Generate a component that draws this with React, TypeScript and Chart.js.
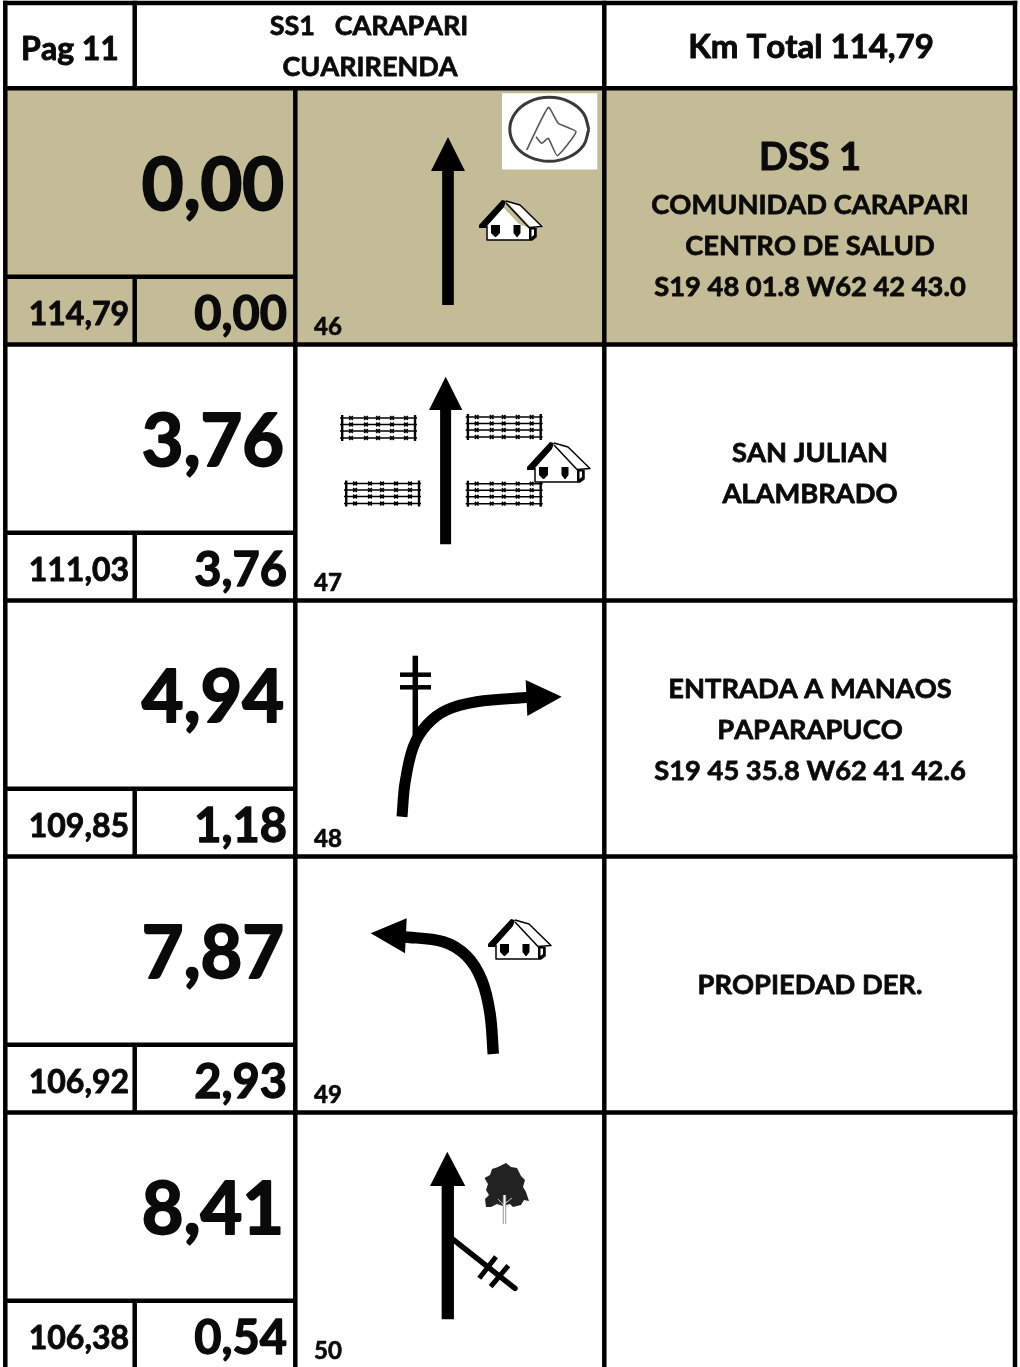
import React, { useEffect, useRef } from "react";
import { Chart, registerables } from "chart.js";

Chart.register(...registerables);

const SHEET_W = 1020;
const SHEET_H = 1367;
const FONT = "Lato";
const INK = "#000000";
const TAN = "#C4BC96";

// ---- table text ----
const pageLabel = "Pag 11";
const titleLines = ["SS1   CARAPARI", "CUARIRENDA"];
const totalLabel = "Km Total 114,79";
const kmCumulative = ["0,00", "3,76", "4,94", "7,87", "8,41"];
const kmRemaining = ["114,79", "111,03", "109,85", "106,92", "106,38"];
const kmPartial = ["0,00", "3,76", "1,18", "2,93", "0,54"];
const boxNumbers = ["46", "47", "48", "49", "50"];
const notesRow2 = ["SAN JULIAN", "ALAMBRADO"];
const notesRow3 = ["ENTRADA A MANAOS", "PAPARAPUCO", "S19 45 35.8 W62 41 42.6"];
const notesRow4 = ["PROPIEDAD DER."];
const headingRow1 = "DSS 1";
const notesRow1 = ["COMUNIDAD CARAPARI", "CENTRO DE SALUD", "S19 48 01.8 W62 42 43.0"];

// ---- table rules ----
const columnEdges = [5.3, 134.7, 295.3, 604.3, 1015];
const rowEdges = [3, 88.3, 344.6, 600.6, 856.6, 1112.6];
const subRowEdges = [276.7, 532.7, 788.7, 1044.7, 1300.7];

type P = [number, number];

// ---- straight arrows ----
const arrow46Shaft: P[] = [[448, 168], [448, 305]];
const arrow46Head: P[] = [[448, 137], [465, 171], [431, 171]];
const arrow47Shaft: P[] = [[445.6, 406], [445.6, 544.3]];
const arrow47Head: P[] = [[445.7, 376.7], [462.3, 410], [429, 410]];
const arrow50Shaft: P[] = [[447.8, 1182], [447.8, 1319.3]];
const arrow50Head: P[] = [[447.3, 1151.7], [465.3, 1186], [430, 1186]];

// ---- curved arrows ----
const arrow48Curve: P[] = [[402, 816.7], [405, 783], [413.3, 746.7], [426.7, 725], [446.7, 710], [476.7, 701.7], [530, 697.3]];
const arrow48Head: P[] = [[525.7, 680], [561.7, 696.7], [527.3, 716]];
const arrow49Curve: P[] = [[493.3, 1054], [490, 1013.3], [481.7, 980], [466.7, 956], [443.3, 941.7], [402, 936.7]];
const arrow49Head: P[] = [[406.7, 918.3], [370.7, 933.3], [405, 953.3]];

// ---- pole, track ----
const polePost: P[] = [[415.3, 655.7], [415.3, 738]];
const poleBarA: P[] = [[400, 674.7], [431, 674.7]];
const poleBarB: P[] = [[400, 687.3], [431, 687.3]];
const trackBranch: P[] = [[451.7, 1238.3], [515, 1288.3]];
const trackTickA: P[] = [[496, 1256.7], [479.3, 1278.3]];
const trackTickB: P[] = [[508.3, 1265.7], [490.7, 1286.7]];

// ---- tree ----
const treeCrown: P[] = [[506, 1163], [511, 1167], [517, 1168], [521, 1176], [525, 1180], [523, 1187], [526, 1192], [529, 1201], [524, 1200], [521, 1205], [513, 1207], [510, 1204], [503, 1206], [497, 1204], [491, 1207], [486, 1207], [485, 1199], [489, 1195], [486, 1190], [488, 1184], [484.5, 1178], [490, 1175], [492, 1169], [498, 1167]];
const treeTrunk: P[] = [[504.5, 1224], [504.5, 1195]];
const treeBranchA: P[] = [[504.5, 1206], [498, 1199]];
const treeBranchB: P[] = [[504.5, 1204], [512, 1198]];

// ---- logo ----
const logoBox: P[] = [[502, 93.3], [597.3, 93.3], [597.3, 169.5], [502, 169.5]];
const logoRing: P[] = [[588.8, 129.3], [583.5, 113.3], [569, 101.6], [549.3, 97.3], [529.5, 101.6], [515.1, 113.3], [509.8, 129.3], [515.1, 145.3], [529.5, 157], [549.3, 161.3], [569, 157], [583.5, 145.3], [588.8, 129.3]];
const logoFlag: P[] = [[526.7, 150], [548.3, 107.3], [558.3, 123.3], [576, 131.7], [557.3, 155.7], [548.3, 138.3], [541.7, 143.3], [536, 136.7]];

// ---- house glyph, local units, placed at the origins below ----
const houseOrigins: P[] = [[479, 200], [527, 442], [488, 919]];
const houseBody: P[] = [[7.5, 25], [24, 7], [40, 24], [50, 28], [57, 28], [57, 36], [53, 40], [7.5, 40]];
const houseOutline: P[] = [[8, 26], [8, 40], [53, 40], [57, 37], [57, 28]];
const houseRoofLeft: P[] = [[23, 0], [27, 1], [25, 7], [8, 26], [7, 28], [0, 28], [0, 25]];
const houseRoofRight: P[] = [[27, 1], [41, 5], [64, 26], [62, 28], [52, 27.5], [30, 4]];
const houseRoofEdge: P[] = [[27, 1], [41, 5], [63, 26.5], [50, 27.5], [27, 3]];
const houseSide: P[] = [[50, 28], [57, 28], [57, 36], [53, 40], [50, 40]];
const houseSideStripe: P[] = [[52.5, 29.5], [55, 29.5], [55, 35], [52.5, 37]];
const houseWindowA: P[] = [[12, 25], [21, 25], [21, 33], [17, 37], [16, 37], [12, 33]];
const houseWindowB: P[] = [[34.5, 25], [41.5, 25], [41.5, 33], [38.5, 37], [37.5, 37], [34.5, 33]];

// ---- fence glyph, local units ----
const fenceOrigins: P[] = [[340, 415], [465.7, 414], [344, 480.5], [465.7, 480.7]];
const fencePostXs = [2.2, 75];
const fenceWireYs = [3, 9.5, 16, 23];
const fenceWireLeft = 0;
const fenceWireRight = 77;
const fenceBarbXs = [11, 26, 38, 52, 66];
const fenceRowHeight = 26;

type TextItem = { t: string; x: number; y: number; size: number; align: CanvasTextAlign };

const ROW_STEP = 256;
const NOTE_X = 810;

function buildTexts(): TextItem[] {
  const items: TextItem[] = [
    { t: pageLabel, x: 70, y: 60, size: 32, align: "center" },
    { t: titleLines[0], x: 369, y: 35, size: 27, align: "center" },
    { t: titleLines[1], x: 370, y: 76, size: 27, align: "center" },
    { t: totalLabel, x: 811, y: 58, size: 33, align: "center" },
    { t: headingRow1, x: NOTE_X, y: 170, size: 38, align: "center" },
  ];
  kmCumulative.forEach((t, i) => items.push({ t, x: 284, y: 210 + i * ROW_STEP, size: 72, align: "right" }));
  kmRemaining.forEach((t, i) => items.push({ t, x: 129, y: 324.5 + i * ROW_STEP, size: 32, align: "right" }));
  kmPartial.forEach((t, i) => items.push({ t, x: 287, y: 330 + i * ROW_STEP, size: 47, align: "right" }));
  boxNumbers.forEach((t, i) => items.push({ t, x: 314, y: 335 + i * ROW_STEP, size: 24, align: "left" }));
  notesRow1.forEach((t, i) => items.push({ t, x: NOTE_X, y: 214 + i * 41, size: 27.3, align: "center" }));
  notesRow2.forEach((t, i) => items.push({ t, x: NOTE_X, y: 462 + i * 41, size: 27.3, align: "center" }));
  notesRow3.forEach((t, i) => items.push({ t, x: NOTE_X, y: 698 + i * 41, size: 27.3, align: "center" }));
  notesRow4.forEach((t, i) => items.push({ t, x: NOTE_X, y: 994 + i * 41, size: 27.3, align: "center" }));
  return items;
}

const toXY = (pts: P[]) => pts.map(([x, y]) => ({ x, y }));
const shift = (pts: P[], o: P): P[] => pts.map(([x, y]) => [x + o[0], y + o[1]] as P);

function stroke(pts: P[], width: number, color = INK, tension = 0, cap: CanvasLineCap = "butt") {
  return { data: toXY(pts), showLine: true, borderColor: color, borderWidth: width, tension: Math.max(tension, 0.0001), pointRadius: 0, fill: false, borderCapStyle: cap, borderJoinStyle: "round" };
}
function shape(pts: P[], color = INK) {
  const closed = [...pts, pts[0]];
  return { data: toXY(closed), showLine: true, borderColor: color, borderWidth: 0, backgroundColor: color, tension: 0, pointRadius: 0, fill: "shape" };
}

function buildDatasets() {
  const d: any[] = [];
  // tan band of the first row
  d.push(shape([[columnEdges[0], rowEdges[1]], [columnEdges[4], rowEdges[1]], [columnEdges[4], rowEdges[2]], [columnEdges[0], rowEdges[2]]], TAN));
  // logo
  d.push(shape(logoBox, "#FFFFFF"));
  d.push(stroke(logoRing, 3, "#3a3a3a", 0.4));
  d.push(stroke(logoFlag, 1.6, "#555555", 0.15));
  // arrows
  d.push(stroke(arrow46Shaft, 11.7), shape(arrow46Head));
  d.push(stroke(arrow47Shaft, 11), shape(arrow47Head));
  d.push(stroke(arrow50Shaft, 12.3), shape(arrow50Head));
  d.push(stroke(polePost, 5.5), stroke(poleBarA, 4.5), stroke(poleBarB, 4.5));
  d.push(stroke(arrow48Curve, 11, INK, 0.35), shape(arrow48Head));
  d.push(stroke(arrow49Curve, 11.5, INK, 0.35), shape(arrow49Head));
  d.push(stroke(trackBranch, 5.5, INK, 0, "round"), stroke(trackTickA, 5), stroke(trackTickB, 5));
  // tree
  d.push(shape(treeCrown, "#222222"));
  d.push(stroke(treeTrunk, 3.4, "#8a8a8a"), stroke(treeTrunk, 1.6, "#ffffff"));
  d.push(stroke(treeBranchA, 1, "#dddddd"), stroke(treeBranchB, 1, "#dddddd"));
  // fences
  fenceOrigins.forEach((o) => {
    fenceWireYs.forEach((wy) => {
      d.push(stroke(shift([[fenceWireLeft, wy], [fenceWireRight, wy]], o), 1.5));
      d.push({
        data: toXY(shift(fenceBarbXs.map((bx) => [bx, wy] as P), o)),
        showLine: false, pointStyle: "crossRot", pointRadius: 2.6, pointBorderWidth: 1.6,
        pointBorderColor: INK, pointBackgroundColor: INK,
      });
    });
    fencePostXs.forEach((px) => d.push(stroke(shift([[px, 0], [px, fenceRowHeight]], o), 2.4)));
  });
  // houses
  houseOrigins.forEach((o) => {
    d.push(shape(shift(houseBody, o), "#FFFFFF"));
    d.push(shape(shift(houseRoofRight, o), "#FFFFFF"));
    d.push(stroke(shift(houseOutline, o), 1.5));
    d.push(stroke(shift(houseRoofEdge, o), 1.5));
    d.push(shape(shift(houseRoofLeft, o)));
    d.push(shape(shift(houseSide, o)));
    d.push(shape(shift(houseSideStripe, o), "#FFFFFF"));
    d.push(shape(shift(houseWindowA, o)));
    d.push(shape(shift(houseWindowB, o)));
  });
  // table rules
  const W = 4.5;
  const [c0, c1, c2, c3, c4] = columnEdges;
  const top = rowEdges[0] - W / 2;
  d.push(stroke([[c0, top], [c0, SHEET_H]], W));
  d.push(stroke([[c4, top], [c4, SHEET_H]], W));
  d.push(stroke([[c3, top], [c3, SHEET_H]], W));
  d.push(stroke([[c1, top], [c1, rowEdges[1]]], W));
  d.push(stroke([[c2, rowEdges[1]], [c2, SHEET_H]], W));
  rowEdges.forEach((y) => d.push(stroke([[c0 - W / 2, y], [c4 + W / 2, y]], W)));
  subRowEdges.forEach((y, i) => {
    d.push(stroke([[c0, y], [c2, y]], W));
    const end = i + 2 < rowEdges.length ? rowEdges[i + 2] : SHEET_H;
    d.push(stroke([[c1, y], [c1, end]], W));
  });
  return d.reverse(); // Chart.js paints the first dataset last
}

const textPlugin = {
  id: "sheetText",
  afterDatasetsDraw(chart: any) {
    const { ctx, scales } = chart;
    ctx.save();
    ctx.fillStyle = "#0a0a0a";
    ctx.strokeStyle = "#0a0a0a";
    ctx.lineJoin = "round";
    ctx.textBaseline = "alphabetic";
    ctx.fontKerning = "none";
    buildTexts().forEach((it) => {
      ctx.font = `700 ${it.size}px ${FONT}, sans-serif`;
      ctx.textAlign = it.align;
      const x = scales.x.getPixelForValue(it.x);
      const y = scales.y.getPixelForValue(it.y);
      ctx.lineWidth = it.size * 0.028;
      ctx.strokeText(it.t, x, y);
      ctx.fillText(it.t, x, y);
    });
    ctx.restore();
  },
};

export default function App() {
  const ref = useRef<HTMLCanvasElement>(null);
  useEffect(() => {
    document.body.style.margin = "0";
    const chart = new Chart(ref.current as HTMLCanvasElement, {
      type: "scatter",
      data: { datasets: buildDatasets() },
      options: {
        animation: false,
        responsive: false,
        maintainAspectRatio: false,
        layout: { padding: 0, autoPadding: false },
        plugins: { legend: { display: false }, tooltip: { enabled: false }, title: { display: false } },
        scales: {
          x: { type: "linear", display: false, min: 0, max: SHEET_W },
          y: { type: "linear", display: false, min: 0, max: SHEET_H, reverse: true },
        },
      },
      plugins: [textPlugin],
    } as any);
    return () => chart.destroy();
  }, []);
  return (
    <div style={{ position: "absolute", left: 0, top: 0, width: SHEET_W, height: SHEET_H, background: "#fff" }}>
      <canvas ref={ref} width={SHEET_W} height={SHEET_H} style={{ display: "block" }} />
    </div>
  );
}
